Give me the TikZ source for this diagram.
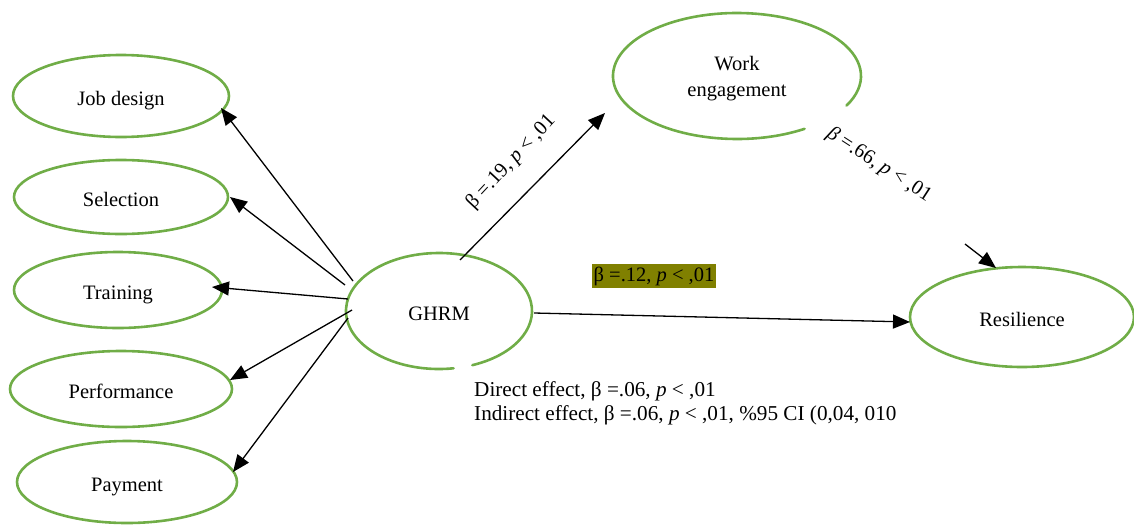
\documentclass[tikz,border=0pt]{standalone}
\usepackage{fontspec}
\setmainfont{Liberation Serif}
\usetikzlibrary{arrows.meta,shapes.geometric}
\definecolor{ringgreen}{HTML}{70AD47}
\definecolor{hilite}{HTML}{808000}

\tikzset{
  base font/.style={font=\fontsize{20.5}{24}\selectfont},
  construct/.style={ellipse, inner sep=0pt, base font, align=center,
    text height=20pt, text depth=0.5pt},
  ring/.style={draw=ringgreen, line width=2.6pt},
  ringline/.style={ringgreen, line width=2.6pt, line cap=round},
  link/.style={draw=black, line width=1.3pt, -{Triangle[length=17pt,width=14pt]}},
  coef/.style={base font, inner sep=0pt},
}

\begin{document}
\begin{tikzpicture}[x=1pt,y=-1pt]
\useasboundingbox (0,0) rectangle (1134,525);

% indicator constructs on the left
\node[construct, ring, minimum width=216pt, minimum height=82pt] (jobdesign)   at (121,96)  {Job design};
\node[construct, ring, minimum width=214pt, minimum height=74pt] (selection)   at (121,197) {Selection};
\node[construct, ring, minimum width=208pt, minimum height=76pt] (training)    at (118,290) {Training};
\node[construct, ring, minimum width=222pt, minimum height=76pt] (performance) at (121,389) {Performance};
\node[construct, ring, minimum width=220pt, minimum height=82pt] (payment)     at (127,482) {Payment};

% central construct (outline with a small opening at the bottom)
\node[construct, minimum width=186pt, minimum height=116pt] (ghrm) at (439,311) {GHRM};
\draw[ringline] (ghrm.center) ++(81:93 and 58)
  arc[start angle=81, end angle=429, x radius=93, y radius=58];

% mediator (outline open on the lower right)
\node[construct, font=\fontsize{20.5}{26}\selectfont, text height=44.5pt, text depth=4.5pt,
      minimum width=248pt, minimum height=126pt] (work) at (737,76) {Work\\engagement};
\draw[ringline] (work.center) ++(57:124 and 63)
  arc[start angle=57, end angle=388, x radius=124, y radius=63];

% outcome
\node[construct, ring, minimum width=224pt, minimum height=100pt] (resilience) at (1022,317) {Resilience};

% GHRM dimensions
\draw[link] ([shift={(-86,-30)}]ghrm.center) -- ([shift={(100,12)}]jobdesign.center);
\draw[link] ([shift={(-94,-26)}]ghrm.center) -- ([shift={(109,0)}]selection.center);
\draw[link] ([shift={(-91,-12)}]ghrm.center) -- ([shift={(94,-3)}]training.center);
\draw[link] ([shift={(-87,-1)}]ghrm.center)  -- ([shift={(109,-9)}]performance.center);
\draw[link] ([shift={(-91,7)}]ghrm.center)   -- ([shift={(106,-10)}]payment.center);

% structural paths
\draw[link] ([shift={(21,-51)}]ghrm.center) -- ([shift={(-132,37)}]work.center);
\draw[link] ([shift={(95,2)}]ghrm.center) -- ([shift={(-112,5)}]resilience.center);
\coordinate (wtail) at (965,244);
\draw[link] (wtail) -- ([shift={(-26,-49)}]resilience.center);

% path coefficients
\node[coef, rotate=47] (c19) at (511,162) {β =.19, \textit{p} < ,01};
\node[coef, rotate=-33] (c66) at (879,165) {\textit{β} =.66, \textit{p} < ,01};
\node[coef, fill=hilite, inner xsep=2pt, inner ysep=3pt] (c12) at (654,276) {β =.12, \textit{p} < ,01};

\node[coef, font=\fontsize{21.2}{24}\selectfont, anchor=north west, align=left] (effects) at (474,381)
  {Direct effect, β =.06, \textit{p} < ,01\\
   Indirect effect, β =.06, \textit{p} < ,01, \%95 CI (0,04, 010};
\end{tikzpicture}
\end{document}
